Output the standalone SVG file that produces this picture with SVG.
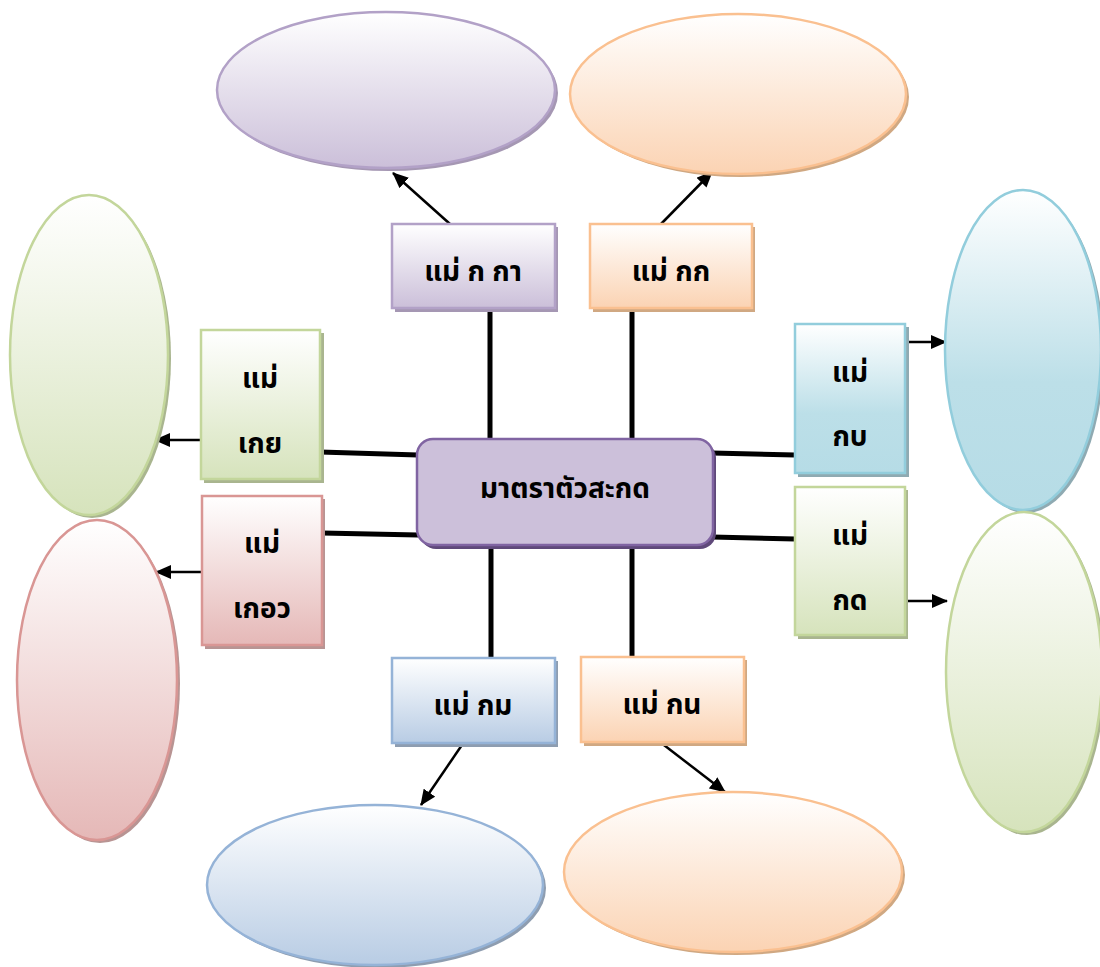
<svg xmlns="http://www.w3.org/2000/svg" width="1100" height="967" viewBox="0 0 1100 967">
<defs>
<linearGradient id="gPur" x1="0" y1="0" x2="0" y2="1"><stop offset="0" stop-color="#ffffff"/><stop offset="1" stop-color="#CBBFD9"/></linearGradient>
<linearGradient id="gOra" x1="0" y1="0" x2="0" y2="1"><stop offset="0" stop-color="#ffffff"/><stop offset="1" stop-color="#FBD3B3"/></linearGradient>
<linearGradient id="gGrn" x1="0" y1="0" x2="0" y2="1"><stop offset="0" stop-color="#ffffff"/><stop offset="1" stop-color="#D6E3BC"/></linearGradient>
<linearGradient id="gCya" x1="0" y1="0" x2="0" y2="1"><stop offset="0" stop-color="#ffffff"/><stop offset="0.6" stop-color="#BCDFE8"/><stop offset="1" stop-color="#B6DCE6"/></linearGradient>
<linearGradient id="gRed" x1="0" y1="0" x2="0" y2="1"><stop offset="0" stop-color="#ffffff"/><stop offset="1" stop-color="#E5B8B7"/></linearGradient>
<linearGradient id="gBlu" x1="0" y1="0" x2="0" y2="1"><stop offset="0" stop-color="#ffffff"/><stop offset="1" stop-color="#B8CCE4"/></linearGradient>
<marker id="arr" markerUnits="userSpaceOnUse" markerWidth="16" markerHeight="14" refX="15" refY="7" orient="auto">
<path d="M0,0 L16,7 L0,14 Z" fill="#000"/>
</marker>
</defs>
<style>
.pur{fill:url(#gPur);stroke:#B2A1C7;stroke-width:2.5}
.ora{fill:url(#gOra);stroke:#FAC090;stroke-width:2.5}
.grn{fill:url(#gGrn);stroke:#C3D69B;stroke-width:2.5}
.cya{fill:url(#gCya);stroke:#92CDDC;stroke-width:2.5}
.red{fill:url(#gRed);stroke:#D99694;stroke-width:2.5}
.blu{fill:url(#gBlu);stroke:#95B3D7;stroke-width:2.5}
.shPur{fill:#A597B3}
.shOra{fill:#D0A882}
.shGrn{fill:#A9B58F}
.shCya{fill:#8FAAB2}
.shRed{fill:#B89493}
.shBlu{fill:#8E9DB0}
.t{font-family:"Noto Sans Thai","Noto Sans","DejaVu Sans",sans-serif;font-weight:bold;font-size:28px;fill:#000;text-anchor:middle}
.thick{stroke:#000;stroke-width:5;fill:none}
.arrow{stroke:#000;stroke-width:2.5;fill:none;marker-end:url(#arr)}
</style>

<g id="connectors">
<line class="thick" x1="490" y1="308" x2="490" y2="440"/>
<line class="thick" x1="632" y1="308" x2="632" y2="440"/>
<line class="thick" x1="491" y1="545" x2="491" y2="658"/>
<line class="thick" x1="632" y1="545" x2="632" y2="657"/>
<line class="thick" x1="320" y1="452" x2="418" y2="455"/>
<line class="thick" x1="322" y1="533" x2="418" y2="535"/>
<line class="thick" x1="712" y1="453" x2="795" y2="455"/>
<line class="thick" x1="712" y1="537" x2="795" y2="539"/>
<line class="arrow" x1="450" y1="224" x2="393" y2="173"/>
<line class="arrow" x1="661" y1="224" x2="712" y2="172"/>
<line class="arrow" x1="201" y1="440" x2="155" y2="440"/>
<line class="arrow" x1="201" y1="572" x2="156" y2="572"/>
<line class="arrow" x1="905" y1="342" x2="946" y2="342"/>
<line class="arrow" x1="905" y1="601" x2="947" y2="601"/>
<line class="arrow" x1="464" y1="742" x2="421" y2="805"/>
<line class="arrow" x1="660" y1="742" x2="725" y2="792"/>
</g>

<g id="ellipse-top-left">
<ellipse class="shPur" cx="389" cy="93" rx="169" ry="78"/>
<ellipse class="pur" cx="386" cy="90" rx="169" ry="78"/>
</g>
<g id="ellipse-top-right">
<ellipse class="shOra" cx="741" cy="97" rx="168" ry="80"/>
<ellipse class="ora" cx="738" cy="94" rx="168" ry="80"/>
</g>
<g id="ellipse-left-top">
<ellipse class="shGrn" cx="92" cy="358" rx="79" ry="160"/>
<ellipse class="grn" cx="89" cy="355" rx="79" ry="160"/>
</g>
<g id="ellipse-left-bottom">
<ellipse class="shRed" cx="100" cy="683" rx="80" ry="160"/>
<ellipse class="red" cx="97" cy="680" rx="80" ry="160"/>
</g>
<g id="ellipse-right-top">
<ellipse class="shCya" cx="1026" cy="353" rx="78" ry="160"/>
<ellipse class="cya" cx="1023" cy="350" rx="78" ry="160"/>
</g>
<g id="ellipse-right-bottom">
<ellipse class="shGrn" cx="1027" cy="675" rx="78" ry="160"/>
<ellipse class="grn" cx="1024" cy="672" rx="78" ry="160"/>
</g>
<g id="ellipse-bottom-left">
<ellipse class="shBlu" cx="378" cy="888" rx="168" ry="80"/>
<ellipse class="blu" cx="375" cy="885" rx="168" ry="80"/>
</g>
<g id="ellipse-bottom-right">
<ellipse class="shOra" cx="736" cy="875" rx="169" ry="80"/>
<ellipse class="ora" cx="733" cy="872" rx="169" ry="80"/>
</g>

<g id="center">
<rect x="420" y="442" width="296" height="107" rx="16" fill="#5F497A"/>
<rect x="417" y="439" width="296" height="106" rx="16" fill="#CCC0DA" stroke="#8064A2" stroke-width="2.5"/>
<text class="t" x="565" y="498">มาตราตัวสะกด</text>
</g>

<g id="box-kka">
<rect class="shPur" x="395" y="227" width="163" height="85"/>
<rect class="pur" x="392" y="224" width="163" height="84"/>
<text class="t" x="473" y="281">แม่ ก กา</text>
</g>
<g id="box-kok">
<rect class="shOra" x="593" y="227" width="162" height="85"/>
<rect class="ora" x="590" y="224" width="162" height="84"/>
<text class="t" x="671" y="281">แม่ กก</text>
</g>
<g id="box-koey">
<rect class="shGrn" x="204" y="333" width="120" height="150"/>
<rect class="grn" x="201" y="330" width="119" height="149"/>
<text class="t" x="260" y="388">แม่</text>
<text class="t" x="260" y="453">เกย</text>
</g>
<g id="box-koew">
<rect class="shRed" x="205" y="499" width="120" height="150"/>
<rect class="red" x="202" y="496" width="120" height="149"/>
<text class="t" x="262" y="553">แม่</text>
<text class="t" x="262" y="618">เกอว</text>
</g>
<g id="box-kob">
<rect class="shCya" x="798" y="327" width="111" height="150"/>
<rect class="cya" x="795" y="324" width="110" height="149"/>
<text class="t" x="850" y="382">แม่</text>
<text class="t" x="850" y="446">กบ</text>
</g>
<g id="box-kod">
<rect class="shGrn" x="798" y="490" width="110" height="149"/>
<rect class="grn" x="795" y="487" width="110" height="148"/>
<text class="t" x="850" y="545">แม่</text>
<text class="t" x="850" y="610">กด</text>
</g>
<g id="box-kom">
<rect class="shBlu" x="395" y="661" width="163" height="86"/>
<rect class="blu" x="392" y="658" width="163" height="85"/>
<text class="t" x="473" y="715">แม่ กม</text>
</g>
<g id="box-kon">
<rect class="shOra" x="584" y="660" width="163" height="86"/>
<rect class="ora" x="581" y="657" width="163" height="85"/>
<text class="t" x="662" y="714">แม่ กน</text>
</g>
</svg>
